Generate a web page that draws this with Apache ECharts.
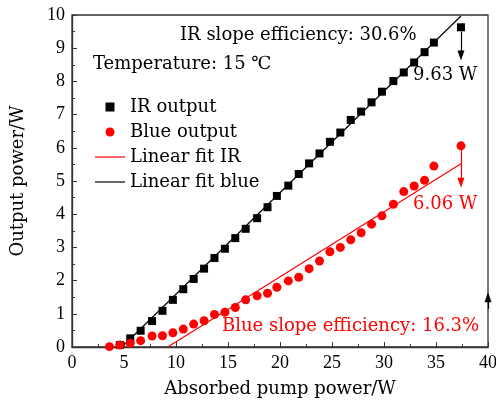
<!DOCTYPE html>
<html><head><meta charset="utf-8">
<script src="https://cdn.jsdelivr.net/npm/echarts@6/dist/echarts.min.js"></script>
<style>html,body{margin:0;padding:0;background:#fff}#c{width:496px;height:401px}</style>
</head><body><div id="c"></div>
<script>
const irPump = [4.6, 5.6, 6.6, 7.7, 8.7, 9.7, 10.7, 11.7, 12.7, 13.7, 14.7, 15.7, 16.7, 17.8, 18.8, 19.7, 20.8, 21.8, 22.8, 23.8, 24.8, 25.8, 26.8, 27.8, 28.8, 29.8, 30.9, 31.9, 32.9, 33.9, 34.8, 37.4];
const irOut = [0.06, 0.26, 0.49, 0.78, 1.09, 1.42, 1.74, 2.05, 2.36, 2.68, 2.96, 3.28, 3.56, 3.88, 4.21, 4.55, 4.86, 5.21, 5.53, 5.83, 6.18, 6.46, 6.84, 7.09, 7.37, 7.69, 8.01, 8.27, 8.57, 8.88, 9.17, 9.63];
const bluePump = [3.6, 4.6, 5.6, 6.6, 7.7, 8.7, 9.7, 10.7, 11.7, 12.7, 13.7, 14.7, 15.7, 16.7, 17.8, 18.8, 19.7, 20.8, 21.8, 22.8, 23.8, 24.8, 25.8, 26.8, 27.8, 28.8, 29.8, 30.9, 31.9, 32.9, 33.9, 34.8, 37.4];
const blueOut = [0.01, 0.06, 0.11, 0.19, 0.33, 0.34, 0.43, 0.54, 0.69, 0.79, 0.98, 1.05, 1.19, 1.42, 1.54, 1.62, 1.80, 1.99, 2.10, 2.36, 2.59, 2.87, 3.00, 3.23, 3.44, 3.70, 3.95, 4.30, 4.68, 4.85, 5.02, 5.45, 6.06];
const irFitX = [4.8, 37.4];
const irFitY = [0, 9.97];
const blueFitX = [9.2, 37.4];
const blueFitY = [0, 5.52];
const seriesNames = ['IR output', 'Blue output', 'Linear fit IR', 'Linear fit blue'];
const irArrow = [[37.4, 9.5], [37.4, 8.78]];
const blueArrow = [[37.4, 6.0], [37.4, 4.95]];
const sideArrow = [[40, 1.15], [40, 1.5]];
const texts = {
  irSlope: 'IR slope efficiency: 30.6%',
  temp: 'Temperature: 15 ℃',
  irMax: '9.63 W',
  blueMax: '6.06 W',
  blueSlope: 'Blue slope efficiency: 16.3%',
  xName: 'Absorbed pump power/W',
  yName: 'Output power/W'
};

const FONT = 'DejaVu Serif';
const NUMFONT = 'Liberation Serif';
const zip = (a, b) => a.map((v, i) => [v, b[i]]);
const arrowLine = (pts, color) => ({
  silent: true, symbol: ['none', 'triangle'], symbolSize: [7, 10],
  label: {show: false},
  lineStyle: {color: color, width: 1.2, type: 'solid'},
  data: [[{coord: pts[0]}, {coord: pts[1]}]]
});

const chart = echarts.init(document.getElementById('c'), null, {renderer: 'canvas'});
const axisCommon = {
  axisLine: {show: true, onZero: false, lineStyle: {color: '#333', width: 1.3}},
  axisTick: {show: true, inside: true, length: 5, lineStyle: {color: '#333'}},
  minorTick: {show: true, splitNumber: 2, length: 3, lineStyle: {color: '#333'}},
  splitLine: {show: false},
  axisLabel: {color: '#000', fontFamily: NUMFONT, fontSize: 18, margin: 7}
};
const nameStyle = {color: '#000', fontFamily: FONT, fontSize: 18};
chart.setOption({
  animation: false,
  textStyle: {fontFamily: FONT},
  grid: {left: 72, right: 8, top: 15, bottom: 54, show: true, borderColor: '#333', borderWidth: 1.3,
         containLabel: false, outerBoundsMode: 'none'},
  xAxis: Object.assign({}, axisCommon, {
    type: 'value', min: 0, max: 40, interval: 5,
    name: texts.xName, nameLocation: 'middle', nameGap: 33, nameTextStyle: nameStyle
  }),
  yAxis: Object.assign({}, axisCommon, {
    type: 'value', min: 0, max: 10, interval: 1,
    name: texts.yName, nameLocation: 'middle', nameGap: 45, nameTextStyle: nameStyle
  }),
  legend: {
    orient: 'vertical', left: 90, top: 93, itemWidth: 30, itemHeight: 9,
    itemGap: 7, symbolKeepAspect: true,
    data: [
      {name: seriesNames[0], icon: 'path://M0,0h8v8h-8z'},
      {name: seriesNames[1], icon: 'circle'},
      {name: seriesNames[2], icon: 'path://M0,0h30v1.2h-30z'},
      {name: seriesNames[3], icon: 'path://M0,0h30v1.2h-30z'}
    ],
    textStyle: {color: '#000', fontFamily: FONT, fontSize: 18, lineHeight: 18}
  },
  series: [
    {name: seriesNames[0], type: 'scatter', symbol: 'rect', symbolSize: 8,
     itemStyle: {color: '#000', opacity: 1}, data: zip(irPump, irOut), z: 4,
     markLine: arrowLine(irArrow, '#000')},
    {name: seriesNames[1], type: 'scatter', symbol: 'circle', symbolSize: 9,
     itemStyle: {color: '#ff0000', opacity: 1}, data: zip(bluePump, blueOut), z: 4,
     markLine: arrowLine(blueArrow, '#ff0000')},
    {name: seriesNames[2], type: 'line', symbol: 'none', showSymbol: false,
     lineStyle: {color: '#ff0000', width: 1.2}, itemStyle: {color: '#ff0000'},
     data: zip(blueFitX, blueFitY), z: 3},
    {name: seriesNames[3], type: 'line', symbol: 'none', showSymbol: false,
     lineStyle: {color: '#000', width: 1.2}, itemStyle: {color: '#000'},
     data: zip(irFitX, irFitY), z: 3,
     markLine: arrowLine(sideArrow, '#000')}
  ],
  graphic: [
    {type: 'text', left: 180, top: 26, style: {text: texts.irSlope, fill: '#000', font: '18px ' + FONT}},
    {type: 'text', left: 93, top: 55, style: {text: texts.temp, fill: '#000', font: '18px ' + FONT}},
    {type: 'text', left: 413, top: 66, style: {text: texts.irMax, fill: '#000', font: '18px ' + FONT}},
    {type: 'text', left: 413, top: 195, style: {text: texts.blueMax, fill: '#ff0000', font: '18px ' + FONT}},
    {type: 'text', left: 222, top: 317, style: {text: texts.blueSlope, fill: '#ff0000', font: '18px ' + FONT}}
  ]
});
</script></body></html>
